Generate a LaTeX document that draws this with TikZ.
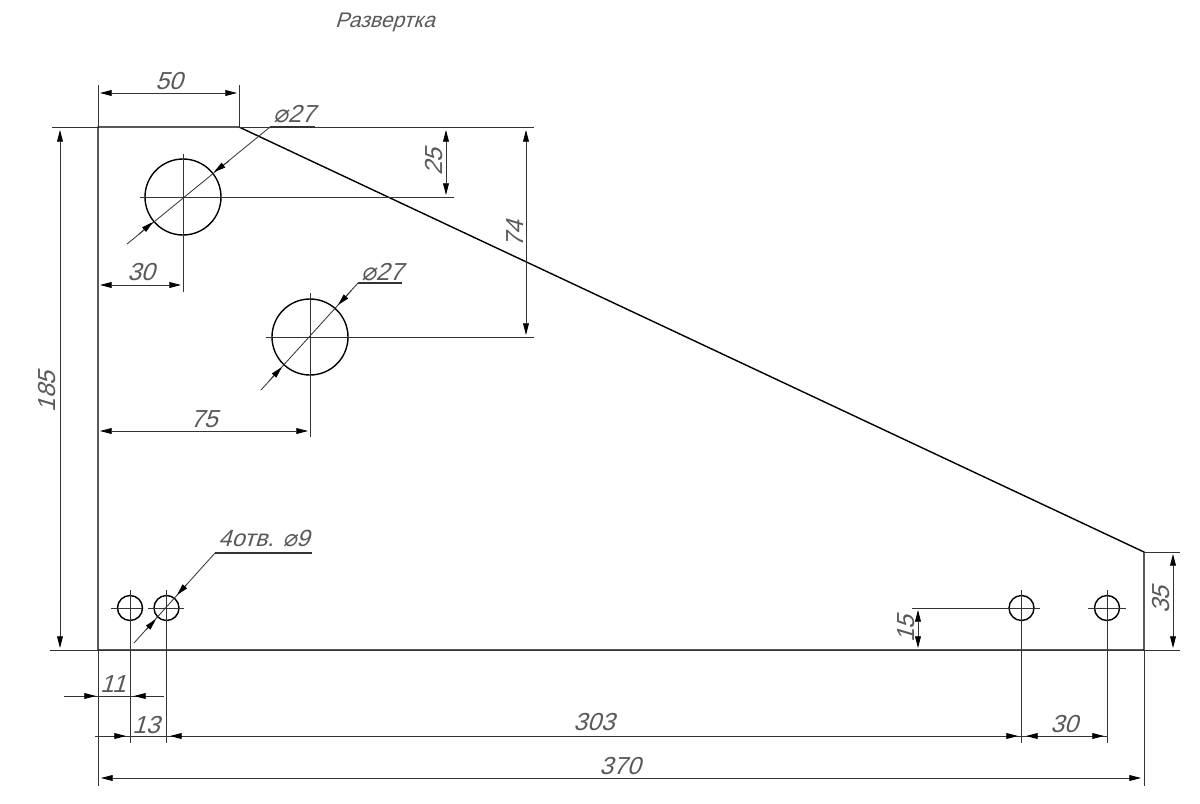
\documentclass[tikz,border=0pt]{standalone}
\usepackage{fontspec}
\setmainfont{Liberation Sans}[ItalicFont={Liberation Sans},ItalicFeatures={FakeSlant=0.3}]
\newfontfamily\diafont{DejaVu Sans}[FakeSlant=0.2]
\usetikzlibrary{arrows.meta}
\newcommand{\dia}{{\diafont ⌀}}
\begin{document}
\begin{tikzpicture}[x=0.03cm,y=-0.03cm]
    \tikzstyle{outline} = [draw=black, line width=1.2pt]
    \tikzstyle{thin line} = [draw=black!80, line width=0.7pt]
    \tikzstyle{shelf} = [draw=black!80, line width=1pt]
    \tikzstyle{tip} = [draw=black!80, line width=0.7pt, -{Triangle[length=10pt,width=5pt,color=black]}]
    \tikzstyle{bothtips} = [draw=black!80, line width=0.7pt, {Triangle[length=10pt,width=5pt,color=black]}-{Triangle[length=10pt,width=5pt,color=black]}]
    \tikzstyle{dimtext} = [inner sep=0pt, text=black!65, font=\itshape\fontsize{21}{21}\selectfont]
    \tikzstyle{title} = [inner sep=0pt, text=black!65, font=\itshape\fontsize{18}{18}\selectfont]
    \useasboundingbox (0,0) rectangle (1200,803);
    \fill[white] (0,0) rectangle (1200,803);

    \node (title) [title] at (385,22) {Развертка};

    % part outline and holes
    \draw[outline] (98,127) -- (239,127) -- (1144,552) -- (1144,650) -- (98,650) -- cycle;
    \draw[outline] (183,197) circle (38);
    \draw[outline] (310,337) circle (38);
    \draw[outline] (130,608) circle (12.5);
    \draw[outline] (166.5,608) circle (12.5);
    \draw[outline] (1021.5,608) circle (12.5);
    \draw[outline] (1107,608) circle (12.5);

    % centre and extension lines
    \draw[thin line] (140,197) -- (454,197);
    \draw[thin line] (183,154) -- (183,292);
    \draw[thin line] (266,337) -- (534,337);
    \draw[thin line] (310,293) -- (310,437);
    \draw[thin line] (111,608) -- (142,608);
    \draw[thin line] (148,608) -- (184,608);
    \draw[thin line] (912,608) -- (1040,608);
    \draw[thin line] (1088,608) -- (1126,608);
    \draw[thin line] (130,590) -- (130,743);
    \draw[thin line] (166.5,590) -- (166.5,743);
    \draw[thin line] (1021.5,590) -- (1021.5,743);
    \draw[thin line] (1107,590) -- (1107,743);
    \draw[thin line] (52,127) -- (98,127);
    \draw[thin line] (239,127) -- (534,127);
    \draw[thin line] (50,650) -- (1180,650);
    \draw[thin line] (1144,552) -- (1180,552);
    \draw[thin line] (98,85) -- (98,127);
    \draw[thin line] (239,85) -- (239,127);
    \draw[thin line] (98,650) -- (98,786);
    \draw[thin line] (1144,650) -- (1144,786);

    % dimensions
    \draw[bothtips] (100,93) -- (237,93);
    \node (d50) [dimtext] at (169,81) {50};
    \draw[bothtips] (60,130) -- (60,648);
    \node (d185) [dimtext, rotate=90] at (47,392) {185};
    \draw[bothtips] (100,285) -- (181,285);
    \node (d30a) [dimtext] at (141,272) {30};
    \draw[bothtips] (100,431) -- (308,431);
    \node (d75) [dimtext] at (204,419) {75};
    \draw[bothtips] (446,130) -- (446,195);
    \node (d25) [dimtext, rotate=90] at (434,162) {25};
    \draw[bothtips] (526,130) -- (526,335);
    \node (d74) [dimtext, rotate=90] at (515,234) {74};
    \draw[bothtips] (918,610) -- (918,648);
    \node (d15) [dimtext, rotate=90] at (906,629) {15};
    \draw[bothtips] (1173,554) -- (1173,648);
    \node (d35) [dimtext, rotate=90] at (1161,600) {35};

    % diameter leaders
    \draw[thin line] (127,244) -- (270,127);
    \draw[shelf] (270,127) -- (315,127);
    \draw[tip] (229,161) -- (214,172);
    \draw[tip] (139,234) -- (153,222);
    \node (dia1) [dimtext] at (294,114) {\dia27};
    \draw[thin line] (261,390) -- (358,283);
    \draw[shelf] (358,283) -- (402,283);
    \draw[tip] (351,291) -- (338,305);
    \draw[tip] (269,381) -- (282,367);
    \node (dia2) [dimtext] at (382,272) {\dia27};
    \draw[thin line] (134,643) -- (215,553);
    \draw[shelf] (215,553) -- (312,553);
    \draw[tip] (187,584) -- (177,595);
    \draw[tip] (146,630) -- (156,619);
    \node (holes) [dimtext, font=\itshape\fontsize{20}{20}\selectfont] at (264,539) {4отв. \dia9};

    % baseline chains under the part
    \draw[thin line] (64,696) -- (164,696);
    \draw[tip] (84,696) -- (96,696);
    \draw[tip] (146,696) -- (134,696);
    \node (d11) [dimtext] at (113,684) {11};
    \draw[thin line] (95,736) -- (1107,736);
    \draw[tip] (112,736) -- (126,736);
    \draw[tip] (183,736) -- (170,736);
    \draw[tip] (1004,736) -- (1018,736);
    \draw[tip] (1039,736) -- (1026,736);
    \draw[tip] (1090,736) -- (1104,736);
    \node (d13) [dimtext] at (146,725) {13};
    \node (d303) [dimtext] at (594,722) {303};
    \node (d30b) [dimtext] at (1064,724) {30};
    \draw[bothtips] (101,778) -- (1141,778);
    \node (d370) [dimtext] at (620,766) {370};
\end{tikzpicture}
\end{document}
